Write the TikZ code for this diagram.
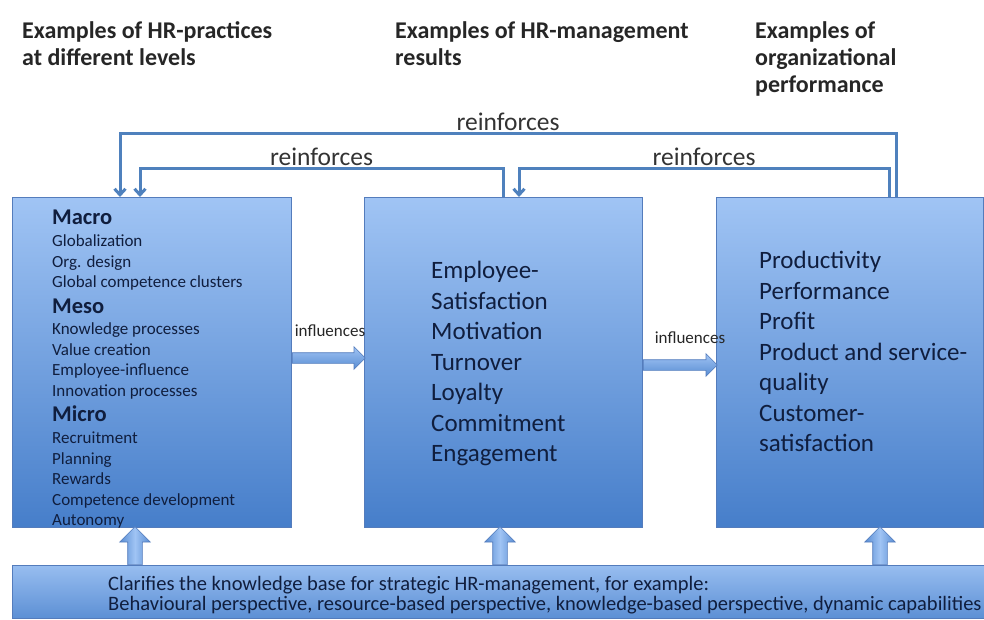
\documentclass[tikz,border=0pt]{standalone}
\usepackage{fontspec}
\setmainfont{Carlito}
\usetikzlibrary{shapes.arrows,arrows.meta,positioning}

\definecolor{boxtop}{RGB}{160,196,244}
\definecolor{boxbot}{RGB}{70,126,202}
\definecolor{boxline}{RGB}{84,124,188}
\definecolor{linkblue}{RGB}{79,129,189}
\definecolor{inktext}{RGB}{16,30,62}

\tikzset{
  panel/.style={draw=boxline, line width=1pt, top color=boxtop, bottom color=boxbot,
    inner sep=0pt, anchor=north west},
  link/.style={draw=linkblue, line width=3pt, -{Straight Barb[length=6pt,width=11pt]}},
  fatarrow/.style={single arrow, draw=boxline, line width=0.6pt, inner sep=5pt,
    single arrow head extend=6pt, single arrow tip angle=90, top color=boxtop, bottom color=boxbot!80!boxtop},
  uparrow/.style={fatarrow, shape border rotate=90, inner sep=7pt, single arrow head extend=8pt,
    left color=boxbot!80!boxtop, right color=boxbot!80!boxtop, middle color=boxtop},
  heading/.style={anchor=north west, inner sep=0pt, align=left,
    font=\fontsize{24}{27}\selectfont\bfseries, text=black!85},
  boxtext/.style={anchor=north west, inner sep=0pt, align=left, text=inktext},
  linklabel/.style={font=\fontsize{25.5}{27}\selectfont, text=black!80, inner sep=1pt},
  smalllabel/.style={font=\fontsize{17}{18}\selectfont, text=black!85, inner sep=0pt}
}

\begin{document}
\begin{tikzpicture}[x=1pt,y=-1pt]
    \useasboundingbox (0,0) rectangle (984,619);
    % column headings
    \node[heading] (hpractice) at (22,21) {Examples of HR-practices\\at different levels};
    \node[heading] (hresult) at (395,21) {Examples of HR-management\\results};
    \node[heading] (hperform) at (755,21) {Examples of\\organizational\\performance};

    % the three boxes and the base
    \node[panel, minimum width=279pt, minimum height=330pt] (practice) at (12,197) {};
    \node[panel, minimum width=278pt, minimum height=330pt] (result) at (364,197) {};
    \node[panel, minimum width=267pt, minimum height=330pt] (perform) at (716,197) {};
    \node[panel, minimum width=972pt, minimum height=53pt, top color=boxtop!90!boxbot,
      bottom color=boxbot!75!boxtop] (base) at (12,565) {};

    % box texts
    \node[boxtext, font=\fontsize{17}{20.5}\selectfont] (levels) at (52,210) {%
      {\fontsize{22.5}{22}\selectfont\bfseries Macro}\\[1.5pt]
      Globalization\\ Org. design\\ Global competence clusters\\[5pt]
      {\fontsize{22.5}{22}\selectfont\bfseries Meso}\\[1pt]
      Knowledge processes\\ Value creation\\ Employee-influence\\ Innovation processes\\[5pt]
      {\fontsize{22.5}{22}\selectfont\bfseries Micro}\\[1.5pt]
      Recruitment\\ Planning\\ Rewards\\ Competence development\\ Autonomy};
    \node[boxtext, font=\fontsize{25}{30.5}\selectfont] (outcomes) at (431,261) {%
      Employee-\\ Satisfaction\\ Motivation\\ Turnover\\ Loyalty\\ Commitment\\ Engagement};
    \node[boxtext, font=\fontsize{25}{30.5}\selectfont] (measures) at (759,251) {%
      Productivity\\ Performance\\ Profit\\ Product and service-\\ quality\\ Customer-\\ satisfaction};
    \node[boxtext, font=\fontsize{20.5}{20}\selectfont] (basetext) at (108,576) {%
      Clarifies the knowledge base for strategic HR-management, for example:\\
      Behavioural perspective, resource-based perspective, knowledge-based perspective, dynamic capabilities};

    % influences arrows
    \node[fatarrow, minimum height=73pt, anchor=tail] (inflA) at (practice.east |- 0,358) {};
    \node[fatarrow, minimum height=74pt, anchor=tail] (inflB) at (result.east |- 0,365) {};
    \node[smalllabel] (inflAtext) at (330,331) {influences};
    \node[smalllabel] (inflBtext) at (690,338) {influences};

    % support arrows from the base
    \foreach \name/\xx in {supA/135, supB/500, supC/880}
        \node[uparrow, minimum height=38pt, anchor=tail] (\name) at (\xx,565) {};

    % reinforces loops
    \draw[link] ([xshift=180pt]perform.north west) -- ++(0pt,64pt)
        -| node[linklabel, pos=0.25, above] {reinforces} ([xshift=108pt]practice.north west);
    \draw[link] ([xshift=139pt]result.north west) -- ++(0pt,29pt)
        -| node[linklabel, pos=0.25, above] {reinforces} ([xshift=128pt]practice.north west);
    \draw[link] ([xshift=173pt]perform.north west) -- ++(0pt,29pt)
        -| node[linklabel, pos=0.25, above] {reinforces} ([xshift=155pt]result.north west);
\end{tikzpicture}
\end{document}
